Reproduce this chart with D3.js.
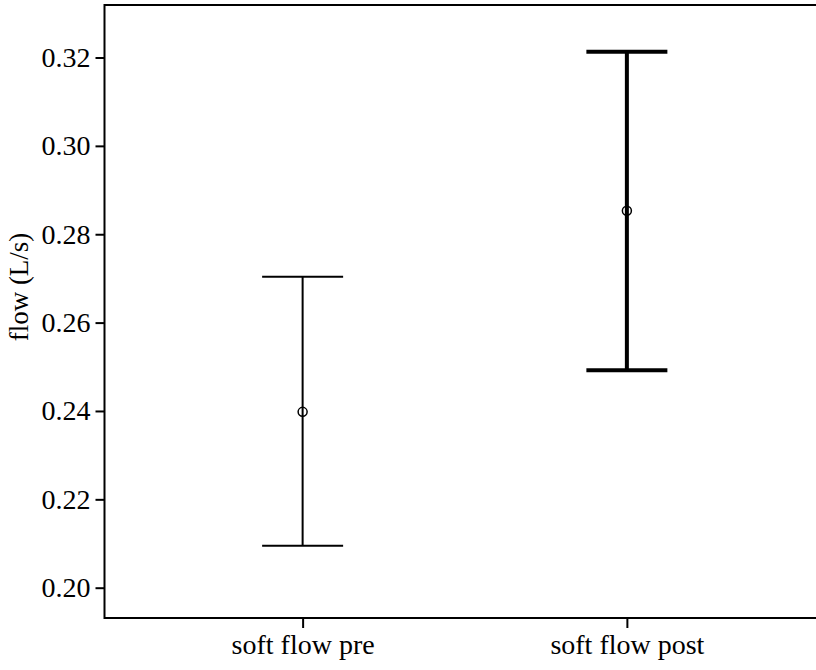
<!DOCTYPE html>
<html>
<head>
<meta charset="utf-8">
<script src="https://cdn.jsdelivr.net/npm/d3@7"></script>
<style>
  html, body { margin: 0; padding: 0; background: #fff; }
  svg { display: block; }
  svg text { font-family: "Times New Roman", "Liberation Serif", Times, "DejaVu Serif", serif; fill: #000; }
</style>
</head>
<body>
<svg id="chart" width="816" height="670"></svg>
<script>
const categories = ["soft flow pre", "soft flow post"];
const means = [0.2398, 0.2853];
const lower = [0.2095, 0.2492];
const upper = [0.2704, 0.3213];
const strokeWidths = [2, 4];
const yTicks = [0.20, 0.22, 0.24, 0.26, 0.28, 0.30, 0.32];
const yTitle = "flow (L/s)";

const W = 816, H = 670;
const plot = { left: 104.5, top: 5, right: 825, bottom: 618 };
const FONT = '"Times New Roman", "Liberation Serif", Times, serif';

const svg = d3.select("#chart");

const y = d3.scaleLinear().domain([0.20, 0.32]).range([587.7, 57.5]);
const x = d3.scalePoint().domain(categories).range([plot.left, plot.right]).padding(0.611);

// frame
svg.append("path")
  .attr("d", `M${W},${plot.top}H${plot.left}V${plot.bottom}H${W}`)
  .attr("fill", "none").attr("stroke", "#000").attr("stroke-width", 2);

// y axis
const yAxis = svg.append("g")
  .attr("transform", `translate(${plot.left},0)`)
  .call(d3.axisLeft(y).tickValues(yTicks).tickFormat(d3.format(".2f")).tickSize(9).tickPadding(5));
yAxis.attr("font-family", FONT).attr("font-size", 28);
yAxis.select(".domain").remove();
yAxis.selectAll(".tick line").attr("stroke", "#000").attr("stroke-width", 2);
yAxis.selectAll(".tick text").style("font-family", FONT).style("font-size", "28px").attr("fill", "#000");

// x axis
const xAxis = svg.append("g")
  .attr("transform", `translate(0,${plot.bottom})`)
  .call(d3.axisBottom(x).tickSize(10).tickPadding(6));
xAxis.attr("font-family", FONT).attr("font-size", 28);
xAxis.select(".domain").remove();
xAxis.selectAll(".tick line").attr("stroke", "#000").attr("stroke-width", 2);
xAxis.selectAll(".tick text").style("font-family", FONT).style("font-size", "28px").attr("fill", "#000");

// y title
svg.append("text")
  .attr("transform", `translate(28,287) rotate(-90)`)
  .attr("text-anchor", "middle")
  .style("font-family", FONT)
  .style("font-size", "27px")
  .text(yTitle);

// error bars
const capHalf = 40.5;
const g = svg.append("g");
categories.forEach((c, i) => {
  const cx = x(c);
  const sw = strokeWidths[i];
  g.append("line").attr("x1", cx).attr("x2", cx).attr("y1", y(upper[i])).attr("y2", y(lower[i]))
    .attr("stroke", "#000").attr("stroke-width", sw);
  g.append("line").attr("x1", cx - capHalf).attr("x2", cx + capHalf).attr("y1", y(upper[i])).attr("y2", y(upper[i]))
    .attr("stroke", "#000").attr("stroke-width", sw);
  g.append("line").attr("x1", cx - capHalf).attr("x2", cx + capHalf).attr("y1", y(lower[i])).attr("y2", y(lower[i]))
    .attr("stroke", "#000").attr("stroke-width", sw);
  g.append("circle").attr("cx", cx).attr("cy", y(means[i])).attr("r", 4.5)
    .attr("fill", "none").attr("stroke", "#000").attr("stroke-width", 1.5);
});
</script>
</body>
</html>
